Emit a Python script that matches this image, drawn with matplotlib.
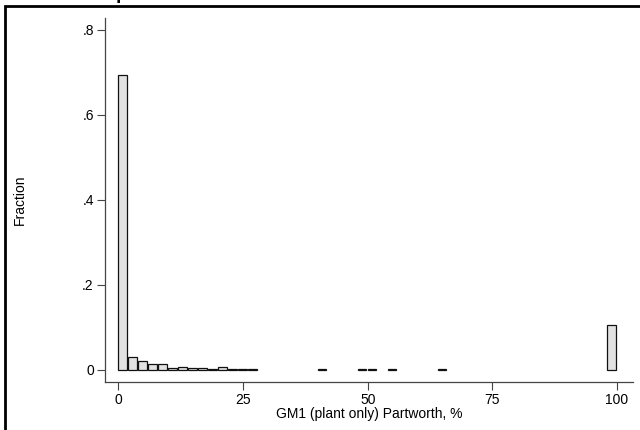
import matplotlib
matplotlib.use("Agg")
from matplotlib import pyplot as plt
from matplotlib.patches import Rectangle

plt.rcParams['font.family'] = ['Liberation Sans', 'DejaVu Sans']

# left edges of the 2-point bins that have data, and their fractions
bin_left = [0, 2, 4, 6, 8, 10, 12, 14, 16, 18, 20, 22, 24, 26,
            40, 48, 50, 54, 64, 98]
fraction = [0.693, 0.031, 0.022, 0.015, 0.014, 0.005, 0.008, 0.004, 0.005, 0.003,
            0.006, 0.003, 0.003, 0.003,
            0.003, 0.003, 0.003, 0.003, 0.003, 0.106]

y_ticks = [0, 0.2, 0.4, 0.6, 0.8]
y_labels = ['0', '.2', '.4', '.6', '.8']
x_ticks = [0, 25, 50, 75, 100]

fig = plt.figure(figsize=(6.4, 4.3), dpi=100)
ax = fig.add_axes([0.164, 0.112, 0.825, 0.846])

ax.bar(bin_left, fraction, width=1.7, align='edge',
       color='#e2e2e2', edgecolor='#111111', linewidth=0.9)

ax.set_xlim(-2.7, 103.2)
ax.set_ylim(-0.028, 0.827)
ax.set_xticks(x_ticks)
ax.set_xticklabels([str(t) for t in x_ticks])
ax.set_yticks(y_ticks)
ax.set_yticklabels(y_labels)

for s in ['top', 'right']:
    ax.spines[s].set_visible(False)
for s in ['left', 'bottom']:
    ax.spines[s].set_color('#444444')
    ax.spines[s].set_linewidth(0.9)
ax.tick_params(direction='out', length=6, width=0.8, colors='#444444',
               labelcolor='black', labelsize=10, pad=2)

ax.set_xlabel("GM1 (plant only) Partworth, %", fontsize=10, labelpad=0)
ax.set_ylabel("Fraction", fontsize=10, labelpad=40)

# outer frame of the original graph window
fig.add_artist(Rectangle((0.0085, -0.05), 1.1, 1.037, transform=fig.transFigure,
                         fill=False, edgecolor='black', linewidth=2))
# cut-off bold title descender
fig.text(0.181, 1.002, 'p', va='baseline', fontsize=14, fontweight='bold')

fig.savefig('out.png', dpi=100)
